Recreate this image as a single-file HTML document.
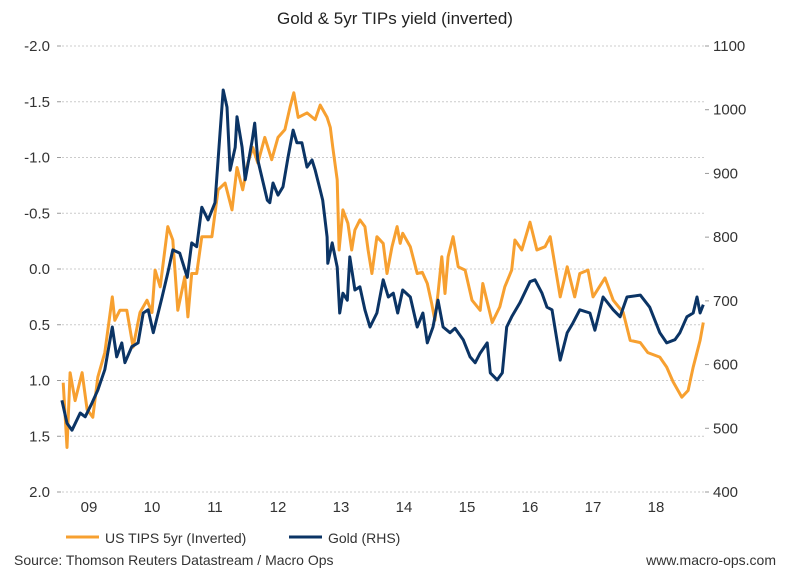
<!DOCTYPE html>
<html><head><meta charset="utf-8"><style>
body{margin:0;background:#fff;}
svg{display:block;font-family:"Liberation Sans",Arial,sans-serif;}
</style></head><body>
<svg id="chart" width="789" height="588" viewBox="0 0 789 588">
<rect width="789" height="588" fill="#fff"/>
<text x="395" y="24" text-anchor="middle" font-size="17" fill="#222">Gold &amp; 5yr TIPs yield (inverted)</text>
<g id="grid"></g><g id="series"></g><g id="axes"></g>
<line x1="66" y1="537" x2="99" y2="537" stroke="#F7A030" stroke-width="3"/>
<text x="105" y="543" font-size="14" fill="#333">US TIPS 5yr (Inverted)</text>
<line x1="289" y1="537" x2="322" y2="537" stroke="#0B3465" stroke-width="3"/>
<text x="328" y="543" font-size="14" fill="#333">Gold (RHS)</text>
<text x="14" y="565" font-size="14" fill="#333">Source: Thomson Reuters Datastream / Macro Ops</text>
<text x="776" y="565" text-anchor="end" font-size="14" fill="#333">www.macro-ops.com</text>
</svg>
<script>
const leftTicks=[-2.0,-1.5,-1.0,-0.5,0.0,0.5,1.0,1.5,2.0];
const rightTicks=[1100,1000,900,800,700,600,500,400];
const yearLabels=["09","10","11","12","13","14","15","16","17","18"];
const yearPos=[2009.5,2010.5,2011.5,2012.5,2013.5,2014.5,2015.5,2016.5,2017.5,2018.5];
const goldDates=[2009.07,2009.15,2009.23,2009.36,2009.44,2009.55,2009.64,2009.75,2009.87,2009.94,2010.02,2010.07,2010.18,2010.28,2010.36,2010.44,2010.52,2010.66,2010.75,2010.83,2010.94,2011.06,2011.13,2011.21,2011.29,2011.39,2011.50,2011.58,2011.63,2011.69,2011.74,2011.82,2011.85,2011.93,2011.98,2012.09,2012.13,2012.18,2012.33,2012.37,2012.42,2012.50,2012.58,2012.66,2012.74,2012.80,2012.88,2012.96,2013.04,2013.09,2013.17,2013.21,2013.28,2013.29,2013.36,2013.44,2013.48,2013.53,2013.60,2013.64,2013.72,2013.80,2013.88,2013.96,2014.07,2014.17,2014.25,2014.33,2014.40,2014.48,2014.60,2014.71,2014.80,2014.87,2014.96,2015.04,2015.12,2015.23,2015.31,2015.44,2015.55,2015.63,2015.71,2015.82,2015.87,2015.98,2016.06,2016.13,2016.21,2016.34,2016.50,2016.58,2016.69,2016.77,2016.85,2016.98,2017.09,2017.18,2017.29,2017.45,2017.53,2017.66,2017.82,2017.93,2018.04,2018.25,2018.40,2018.56,2018.67,2018.80,2018.88,2018.99,2019.09,2019.15,2019.20,2019.25];
const goldValues=[544,508,497,524,518,540,560,592,659,612,634,603,628,634,681,686,650,706,744,780,775,737,791,785,847,827,854,963,1031,1004,905,941,989,941,890,952,979,921,858,854,885,866,879,926,968,948,948,910,921,905,874,858,800,759,791,753,681,712,701,769,717,722,686,659,681,733,706,712,681,717,706,659,681,634,659,701,659,650,657,639,612,603,618,634,587,576,587,659,675,697,730,733,712,690,686,607,650,665,686,681,654,706,686,675,706,709,690,650,634,639,650,675,681,706,681,694];
const tipsDates=[2009.09,2009.15,2009.20,2009.28,2009.39,2009.47,2009.56,2009.64,2009.75,2009.87,2009.91,2009.99,2010.10,2010.20,2010.31,2010.42,2010.50,2010.55,2010.63,2010.75,2010.83,2010.91,2011.02,2011.07,2011.13,2011.21,2011.29,2011.45,2011.55,2011.66,2011.77,2011.85,2011.94,2012.02,2012.10,2012.18,2012.29,2012.40,2012.50,2012.61,2012.69,2012.75,2012.82,2012.96,2013.09,2013.17,2013.28,2013.33,2013.37,2013.44,2013.47,2013.53,2013.61,2013.67,2013.72,2013.80,2013.88,2013.93,2013.99,2014.07,2014.17,2014.23,2014.31,2014.39,2014.44,2014.48,2014.60,2014.71,2014.79,2014.87,2014.94,2014.99,2015.04,2015.10,2015.15,2015.20,2015.28,2015.36,2015.47,2015.58,2015.71,2015.75,2015.90,2016.02,2016.10,2016.21,2016.26,2016.37,2016.50,2016.61,2016.74,2016.82,2016.90,2016.98,2017.09,2017.21,2017.29,2017.42,2017.50,2017.69,2017.82,2017.98,2018.09,2018.25,2018.37,2018.56,2018.67,2018.77,2018.91,2019.01,2019.09,2019.20,2019.25];
const tipsValues=[1.02,1.60,0.93,1.18,0.93,1.26,1.33,0.97,0.75,0.25,0.46,0.37,0.37,0.70,0.39,0.28,0.39,0.01,0.16,-0.38,-0.26,0.37,0.07,0.43,0.04,0.04,-0.29,-0.29,-0.71,-0.77,-0.53,-0.91,-0.71,-0.95,-1.09,-0.95,-1.18,-0.98,-1.18,-1.25,-1.45,-1.58,-1.36,-1.40,-1.34,-1.47,-1.36,-1.27,-1.09,-0.80,-0.17,-0.53,-0.41,-0.17,-0.35,-0.44,-0.38,-0.17,0.04,-0.29,-0.23,0.04,-0.20,-0.38,-0.23,-0.32,-0.20,0.04,0.03,0.13,0.31,0.46,0.22,-0.11,0.22,-0.11,-0.29,-0.02,0.01,0.28,0.37,0.13,0.48,0.34,0.16,0.01,-0.26,-0.17,-0.42,-0.17,-0.20,-0.29,-0.02,0.25,-0.02,0.25,0.04,0.01,0.25,0.08,0.28,0.39,0.64,0.66,0.75,0.79,0.88,1.01,1.15,1.09,0.88,0.64,0.48];

const NS="http://www.w3.org/2000/svg";
const TOP=46,BOT=492,LEFT=62,RIGHT=705;
const xS=t=>89+(t-2009.5)*63;
const yL=v=>TOP+(v+2)/4*(BOT-TOP);
const yR=g=>TOP+(1100-g)/700*(BOT-TOP);
function mk(tag,attrs,parent){const e=document.createElementNS(NS,tag);for(const k in attrs)e.setAttribute(k,attrs[k]);parent.appendChild(e);return e;}
const grid=document.getElementById('grid'),axes=document.getElementById('axes'),series=document.getElementById('series');
leftTicks.forEach(v=>{
  const y=yL(v);
  const g=mk('line',{x1:LEFT,x2:RIGHT,y1:y,y2:y,stroke:'#ccc','stroke-width':1,'stroke-dasharray':'2,2'},grid);
  
  
  const tk=mk('line',{x1:57,x2:61,y1:y,y2:y,stroke:'#999'},axes);
  
  
  const t=mk('text',{x:50,y:y+5,'text-anchor':'end','font-size':15,fill:'#333'},axes);
  t.textContent=v.toFixed(1);
  
  
});
rightTicks.forEach(v=>{
  const y=yR(v);
  const tk=mk('line',{x1:705,x2:709,y1:y,y2:y,stroke:'#999'},axes);
  
  
  const t=mk('text',{x:713,y:y+5,'font-size':15,fill:'#333'},axes);
  t.textContent=v;
  
  
});
yearLabels.forEach((l,i)=>{
  const t=mk('text',{x:xS(yearPos[i]),y:512,'text-anchor':'middle','font-size':15,fill:'#333'},axes);
  t.textContent=l;
  
  
});
function line(dates,vals,ys,color,name){
  const d=dates.map((t,i)=>(i?'L':'M')+xS(t).toFixed(1)+','+ys(vals[i]).toFixed(1)).join('');
  const p=mk('path',{d:d,fill:'none',stroke:color,'stroke-width':3,'stroke-linejoin':'round'},series);
  
  
}
line(tipsDates,tipsValues,yL,'#F7A030','tips-line');
line(goldDates,goldValues,yR,'#0B3465','gold-line');
</script>
</body></html>
